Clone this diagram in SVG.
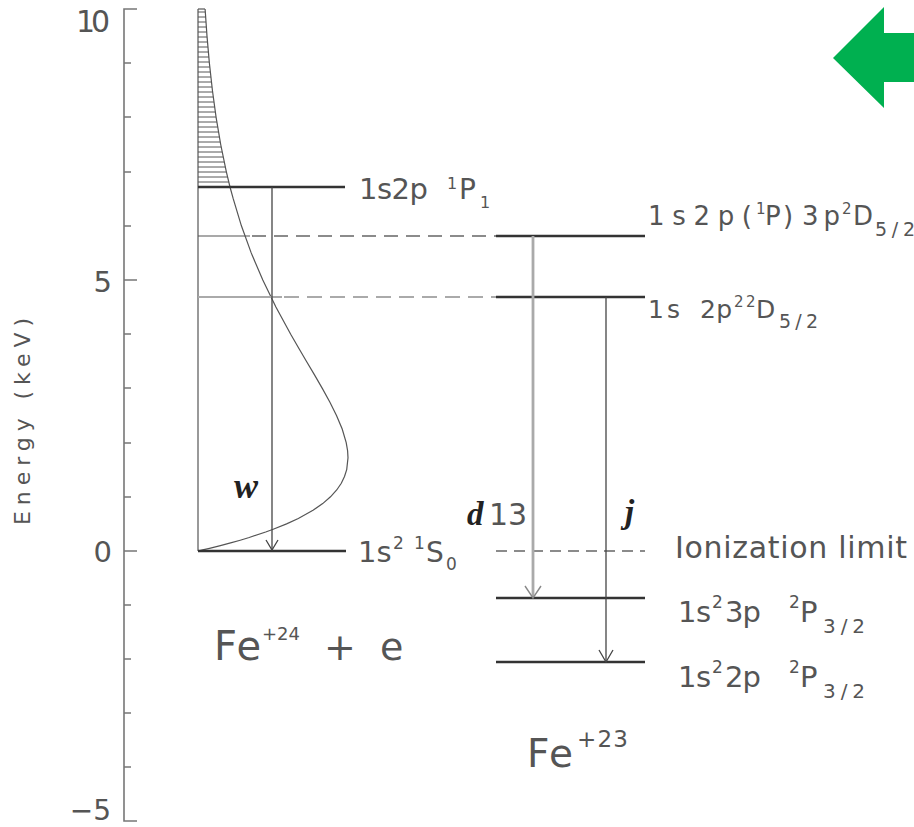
<svg xmlns="http://www.w3.org/2000/svg" width="914" height="827" viewBox="0 0 914 827">
<defs>
<style>
.t{font-family:"DejaVu Sans","Liberation Sans",sans-serif;fill:#555}
.m{font-family:"Liberation Serif","Times New Roman",serif;font-style:italic;font-weight:bold;fill:#222}
.ax{stroke:#777;stroke-width:1.6;fill:none}
.lvl{stroke:#333;stroke-width:2.6}
.thin{stroke:#555;stroke-width:1.2;fill:none}
.dash{stroke:#666;stroke-width:1.3;stroke-dasharray:14 8}
.gdash{stroke:#aaa;stroke-width:2;stroke-dasharray:15 8}
.arr{stroke:#444;stroke-width:1.3;fill:none}
.garr{stroke:#aaa;stroke-width:2.8;fill:none}
</style>
<pattern id="hatch" patternUnits="userSpaceOnUse" x="0" y="9" width="20" height="5">
<line x1="0" y1="3" x2="20" y2="3" stroke="#555" stroke-width="1"/>
</pattern>
<clipPath id="hclip">
<polygon points="198,9 205.1,9 207,36.1 209.4,63.2 212.4,90.3 216.1,117.4 220.7,144.5 226.3,171.6 230,187 198,187"/>
</clipPath>
</defs>
<rect width="914" height="827" fill="#fff"/>

<g id="axis">
<path class="ax" d="M137,9 H124 V821 H137"/>
<path class="ax" d="M124,280 H137 M124,551 H137"/>
<path class="ax" d="M124,63 H131 M124,117 H131 M124,172 H131 M124,226 H131 M124,334 H131 M124,388 H131 M124,443 H131 M124,497 H131 M124,605 H131 M124,659 H131 M124,713 H131 M124,767 H131"/>
<text class="t" x="110" y="32" font-size="30" text-anchor="end" textLength="34" lengthAdjust="spacing">10</text>
<text class="t" x="112" y="292" font-size="29" text-anchor="end">5</text>
<text class="t" x="112" y="562" font-size="29" text-anchor="end">0</text>
<text class="t" x="111" y="820" font-size="28" text-anchor="end">−5</text>
<text class="t" transform="translate(30,525) rotate(-90)" font-size="22" textLength="207" lengthAdjust="spacing">Energy (keV)</text>
</g>

<g id="distribution">
<rect x="198" y="9" width="40" height="178" fill="url(#hatch)" clip-path="url(#hclip)"/>
<line class="thin" x1="198" y1="9" x2="205" y2="9"/>
<line class="thin" x1="198" y1="9" x2="198" y2="551"/>
<polyline class="thin" points="205.1,9 207,36.1 209.4,63.2 212.4,90.3 216.1,117.4 220.7,144.5 226.3,171.6 230,187 233.2,198.7 241.4,225.8 251.2,252.9 262.8,280 275.9,307.1 290.7,334.2 298.5,347.75 306.4,361.3 314.5,374.85 322.3,388.4 329.8,401.95 336.5,415.5 342.2,429.05 346.2,442.6 347.6,450.7 348,457.8 346.7,469.7 344.5,476.5 341.3,483.25 336.7,490 330.5,496.8 322.7,503.6 313,510.35 298.3,518.5 286.6,523.9 273.2,529.3 265.7,532 249.2,537.5 240.2,540.2 230.6,542.9 220.4,545.6 209.5,548.3 202.7,549.9 198,551"/>
</g>

<g id="level-1s2p-1P1">
<line class="lvl" x1="198" y1="187" x2="345" y2="187"/>
<text class="t" x="359" y="199" font-size="29" textLength="69" lengthAdjust="spacing">1s2p</text>
<text class="t" x="447" y="189" font-size="16">1</text>
<text class="t" x="459" y="199" font-size="28">P</text>
<text class="t" x="480" y="208" font-size="16">1</text>
</g>

<g id="level-1s2-1S0">
<line class="lvl" x1="198" y1="551" x2="346" y2="551"/>
<text class="t" x="358" y="562" font-size="29">1s</text>
<text class="t" x="393" y="549" font-size="17">2</text>
<text class="t" x="414" y="549" font-size="17">1</text>
<text class="t" x="426" y="562" font-size="28">S</text>
<text class="t" x="446" y="570" font-size="17">0</text>
</g>

<g id="level-1s2p1P3p2D52">
<line class="thin" x1="198" y1="236" x2="250" y2="236"/>
<line class="dash" x1="252" y1="236" x2="496" y2="236"/>
<line class="lvl" x1="496" y1="236" x2="645" y2="236"/>
<text class="t" x="648" y="225" font-size="26" textLength="104" lengthAdjust="spacing">1s2p(</text>
<text class="t" x="756" y="214" font-size="15">1</text>
<text class="t" x="765" y="225" font-size="26">P</text>
<text class="t" x="783" y="225" font-size="26">)</text>
<text class="t" x="802" y="225" font-size="26" textLength="38" lengthAdjust="spacing">3p</text>
<text class="t" x="842" y="214" font-size="15">2</text>
<text class="t" x="853" y="225" font-size="26">D</text>
<text class="t" x="875" y="236" font-size="19" textLength="40" lengthAdjust="spacing">5/2</text>
</g>

<g id="level-1s2p2-2D52">
<line stroke="#aaa" stroke-width="2" x1="198" y1="297" x2="282" y2="297"/>
<line class="gdash" x1="284" y1="297" x2="496" y2="297"/>
<line class="lvl" x1="496" y1="297" x2="645" y2="297"/>
<text class="t" x="648" y="318" font-size="25" textLength="32" lengthAdjust="spacing">1s</text>
<text class="t" x="700" y="318" font-size="25" textLength="32" lengthAdjust="spacing">2p</text>
<text class="t" x="734" y="307" font-size="15">2</text>
<text class="t" x="746" y="307" font-size="15">2</text>
<text class="t" x="756" y="318" font-size="25">D</text>
<text class="t" x="779" y="328" font-size="19" textLength="39" lengthAdjust="spacing">5/2</text>
</g>

<g id="ionization-limit">
<line stroke="#666" stroke-width="1.3" stroke-dasharray="11 7" x1="496" y1="551" x2="645" y2="551"/>
<text class="t" x="675" y="558" font-size="30" textLength="232" lengthAdjust="spacing">Ionization limit</text>
</g>

<g id="level-1s2-3p-2P32">
<line class="lvl" x1="496" y1="598" x2="645" y2="598"/>
<text class="t" x="678" y="622" font-size="29" textLength="33" lengthAdjust="spacing">1s</text>
<text class="t" x="712" y="608" font-size="17">2</text>
<text class="t" x="725" y="622" font-size="29" textLength="36" lengthAdjust="spacing">3p</text>
<text class="t" x="789" y="608" font-size="17">2</text>
<text class="t" x="800" y="622" font-size="29">P</text>
<text class="t" x="823" y="633" font-size="20" textLength="42" lengthAdjust="spacing">3/2</text>
</g>

<g id="level-1s2-2p-2P32">
<line class="lvl" x1="496" y1="662" x2="645" y2="662"/>
<text class="t" x="678" y="687" font-size="29" textLength="33" lengthAdjust="spacing">1s</text>
<text class="t" x="712" y="673" font-size="17">2</text>
<text class="t" x="725" y="687" font-size="29" textLength="36" lengthAdjust="spacing">2p</text>
<text class="t" x="789" y="673" font-size="17">2</text>
<text class="t" x="800" y="687" font-size="29">P</text>
<text class="t" x="823" y="698" font-size="20" textLength="42" lengthAdjust="spacing">3/2</text>
</g>

<g id="ion-labels">
<text class="t" x="214" y="660" font-size="40" textLength="47" lengthAdjust="spacing">Fe</text>
<text class="t" x="262" y="640" font-size="18" textLength="38" lengthAdjust="spacing">+24</text>
<text class="t" x="324" y="660" font-size="38">+</text>
<text class="t" x="380" y="660" font-size="38">e</text>
<text class="t" x="527" y="767" font-size="39" textLength="46" lengthAdjust="spacing">Fe</text>
<text class="t" x="577" y="747" font-size="23" textLength="51" lengthAdjust="spacing">+23</text>
</g>

<g id="connectors">
<line class="arr" x1="272" y1="187" x2="272" y2="550"/>
<polyline class="arr" points="266,540 272,550 278,540"/>
<line class="garr" x1="533" y1="236" x2="533" y2="597"/>
<polyline stroke="#888" stroke-width="1.4" fill="none" points="525,586 533,598 541,586"/>
<line class="arr" x1="606" y1="297" x2="606" y2="661"/>
<polyline class="arr" points="599,650 606,662 613,650"/>
<text class="m" x="234" y="498" font-size="36">w</text>
<text class="m" x="467" y="525" font-size="33">d</text>
<text class="t" x="489" y="525" font-size="30" textLength="38" lengthAdjust="spacing">13</text>
<text class="m" x="625" y="523" font-size="33">j</text>
</g>

<g id="green-arrow">
<polygon points="833,58 884,7 884,33 914,33 914,82 884,82 884,108" fill="#00b050"/>
</g>
</svg>
